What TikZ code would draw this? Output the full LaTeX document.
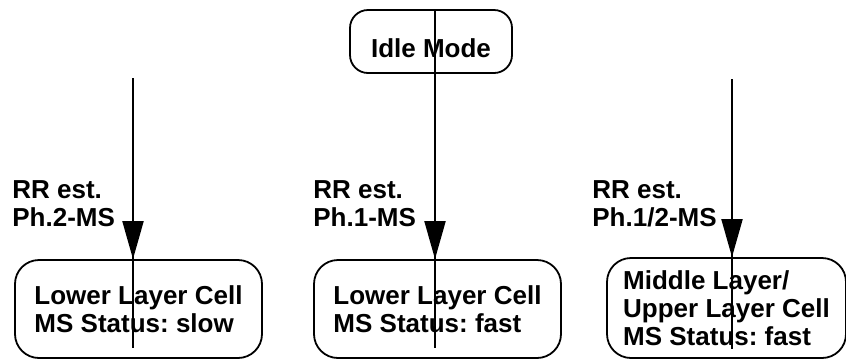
\documentclass[tikz,border=0pt]{standalone}
\usepackage{fontspec}
\setmainfont{Liberation Sans}
\usetikzlibrary{arrows.meta}
\frenchspacing

\begin{document}
\begin{tikzpicture}[x=0.5pt, y=-0.5pt,
    cellbox/.style={draw, line width=0.9pt, rounded corners=12pt, align=left,
        minimum width=123.5pt, inner xsep=4pt, inner ysep=2pt, minimum height=49pt,
        font=\fontsize{13}{14}\selectfont\bfseries},
    modebox/.style={draw, line width=0.9pt, rounded corners=9pt, minimum width=81pt,
        minimum height=31.5pt, text height=15.8pt, text depth=0pt,
        font=\fontsize{13}{14}\selectfont\bfseries},
    estlabel/.style={align=left, inner sep=0pt, anchor=north west,
        font=\fontsize{13}{14}\selectfont\bfseries},
    wire/.style={line width=1pt},
    flow/.style={line width=1pt, -{Triangle[length=19pt, width=10.5pt]}}]
    \useasboundingbox (0,0) rectangle (846,360);
    	% Boxes:
    	\node[modebox] (idle) at (431, 41.5){Idle Mode};
    	\node[cellbox] (slowcell) at (138.5, 309){Lower Layer Cell\\MS Status: slow};
    	\node[cellbox] (fastcell) at (437.5, 309){Lower Layer Cell\\MS Status: fast};
    	\node[cellbox, minimum width=119.5pt, minimum height=50pt] (uppercell) at (726.5, 308){Middle Layer/\\Upper Layer Cell\\MS Status: fast};
    	% Labels:
    	\node[estlabel] (slowest) at (12, 180){RR est.\\Ph.2-MS};
    	\node[estlabel] (fastest) at (313, 180){RR est.\\Ph.1-MS};
    	\node[estlabel] (upperest) at (592, 180){RR est.\\Ph.1/2-MS};
    	% Lines and arrows:
    	\coordinate (slowtop) at (133, 78);
    	\coordinate (slowend) at (133, 348);
    	\coordinate (fasttop) at (435, 10);
    	\coordinate (fastend) at (435, 348);
    	\coordinate (uppertop) at (732, 79);
    	\coordinate (upperend) at (732, 349);
    	\draw[wire] (slowtop) -- (slowend);
    	\draw[wire] (fasttop) -- (fastend);
    	\draw[wire] (uppertop) -- (upperend);
    	\draw[flow] (slowtop) -- (slowtop |- slowcell.north);
    	\draw[flow] (fasttop) -- (fasttop |- fastcell.north);
    	\draw[flow] (uppertop) -- (uppertop |- uppercell.north);
    \end{tikzpicture}
\end{document}
